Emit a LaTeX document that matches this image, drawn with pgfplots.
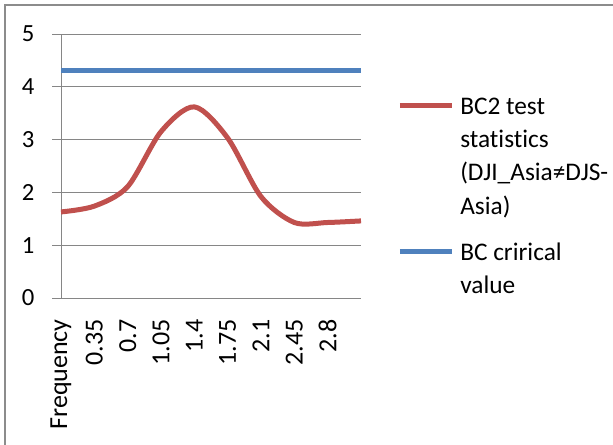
\documentclass[border=0pt]{standalone}
\usepackage{fontspec}
\setmainfont{Carlito}[Ligatures=NoCommon]
\usepackage{pgfplots}
\pgfplotsset{compat=1.18}
\definecolor{bcred}{HTML}{C0504D}
\definecolor{bcblue}{HTML}{4F81BD}
\definecolor{gridgray}{HTML}{868686}
\definecolor{framegray}{HTML}{8C8C8C}
\begin{document}
\begin{tikzpicture}
\path[use as bounding box] (0pt,0pt) rectangle (459.75pt,-333.75pt);
\draw[framegray, line width=1.5pt] (3.4pt,-340pt) -- (3.4pt,-3.4pt) -- (470pt,-3.4pt);
\begin{axis}[
    at={(45.75pt,-223.5pt)}, anchor=south west,
    scale only axis, width=225pt, height=198pt,
    xmin=0, xmax=9, ymin=0, ymax=5,
    axis lines*=left,
    axis line style={gridgray, line width=0.75pt},
    xtick={0,...,8},
    xticklabels={Frequency,0.35,0.7,1.05,1.4,1.75,2.1,2.45,2.8},
    ytick={0,...,5},
    ymajorgrids,
    grid style={gridgray, line width=0.75pt},
    tick align=outside,
    major tick length=6.75pt,
    xtick style={draw=none},
    ytick style={gridgray, line width=0.75pt},
    /pgf/number format/assume math mode=true,
    yticklabel style={font=\fontsize{18.5}{22}\selectfont, inner sep=0pt, xshift=-13pt},
    xticklabel style={font=\fontsize{19.5}{22}\selectfont, rotate=90, anchor=east,
        inner sep=0pt, xshift=-9pt},
    clip=false,
    legend style={at={(axis description cs:1.12,0.76)}, anchor=north west,
        draw=none, fill=none, inner sep=0pt, row sep=20pt, column sep=4.5pt,
        cells={anchor=base west},
        nodes={align=left, font=\fontsize{19}{25}\selectfont, inner sep=0pt}},
]
\addplot[bcred, line width=3.75pt, smooth,
    legend image code/.code={\draw[bcred, line width=3.75pt] (0pt,81.75pt) -- (39pt,81.75pt);}]
    coordinates {
    (0,1.63) (1,1.74) (2,2.11) (3,3.15) (4,3.62)
    (5,3.03) (6,1.92) (7,1.43) (8,1.43) (9,1.46)
};
\addlegendentry{BC2 test\\statistics\\(DJI\_Asia≠DJS-\\Asia)}
\addplot[bcblue, line width=3.75pt,
    legend image code/.code={\draw[bcblue, line width=3.75pt] (0pt,31.75pt) -- (39pt,31.75pt);}]
    coordinates {
    (0,4.3) (1,4.3) (2,4.3) (3,4.3) (4,4.3)
    (5,4.3) (6,4.3) (7,4.3) (8,4.3) (9,4.3)
};
\addlegendentry{BC crirical\\value}
\end{axis}
\end{tikzpicture}
\end{document}
